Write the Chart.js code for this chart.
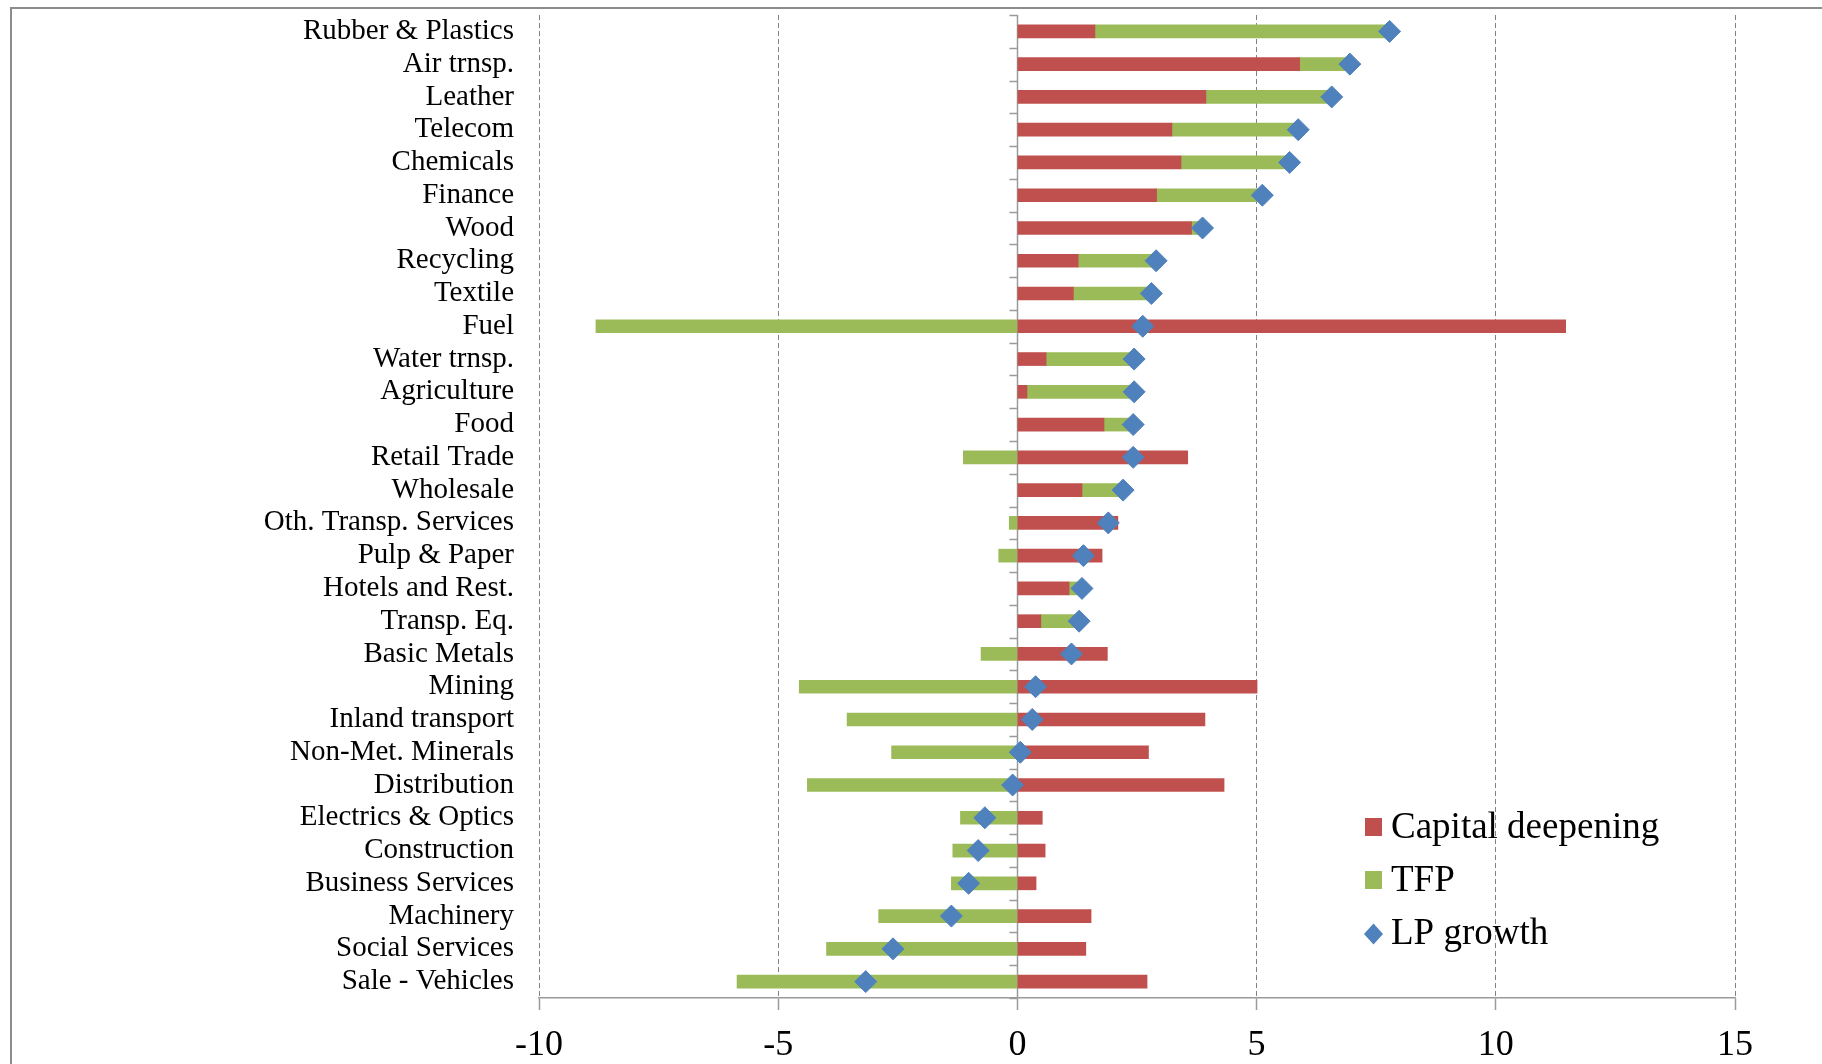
<!DOCTYPE html>
<html>
<head>
<meta charset="utf-8">
<title>Labour productivity growth decomposition by industry</title>
<script src="https://cdn.jsdelivr.net/npm/chart.js@4/dist/chart.umd.min.js"></script>
<style>
  html, body { margin: 0; padding: 0; background: #ffffff; overflow: hidden; }
  #wrap { position: relative; width: 1822px; height: 1064px; }
  #frame {
    position: absolute; left: 10px; top: 7px; width: 1900px; height: 1200px;
    border: 2px solid #8c8c8c; pointer-events: none;
  }
  canvas { position: absolute; left: 0; top: 0; }
</style>
</head>
<body>
<div id="wrap">
  <canvas id="chart" width="1822" height="1064"></canvas>
  <div id="frame"></div>
</div>
<script>
// Industries, top to bottom
const categories = [
  "Rubber & Plastics", "Air trnsp.", "Leather", "Telecom", "Chemicals", "Finance",
  "Wood", "Recycling", "Textile", "Fuel", "Water trnsp.", "Agriculture", "Food",
  "Retail Trade", "Wholesale", "Oth. Transp. Services", "Pulp & Paper",
  "Hotels and Rest.", "Transp. Eq.", "Basic Metals", "Mining", "Inland transport",
  "Non-Met. Minerals", "Distribution", "Electrics & Optics", "Construction",
  "Business Services", "Machinery", "Social Services", "Sale - Vehicles"
];

// Contribution of capital deepening (percentage points)
const capitalDeepening = [
  1.62, 5.90, 3.94, 3.23, 3.42, 2.91,
  3.64, 1.27, 1.17, 11.46, 0.60, 0.20, 1.81,
  3.56, 1.35, 2.10, 1.77,
  1.08, 0.49, 1.88, 5.01, 3.92,
  2.74, 4.32, 0.52, 0.58,
  0.39, 1.54, 1.43, 2.71
];

// Contribution of total factor productivity (percentage points)
const tfp = [
  6.15, 1.05, 2.63, 2.64, 2.27, 2.21,
  0.22, 1.63, 1.63, -8.81, 1.84, 2.24, 0.61,
  -1.13, 0.86, -0.17, -0.39,
  0.27, 0.80, -0.76, -4.56, -3.56,
  -2.63, -4.39, -1.19, -1.35,
  -1.38, -2.90, -3.99, -5.86
];

// Labour productivity growth (%)
const lpGrowth = [
  7.78, 6.95, 6.57, 5.87, 5.69, 5.12,
  3.87, 2.90, 2.80, 2.62, 2.44, 2.44, 2.42,
  2.42, 2.21, 1.90, 1.38,
  1.35, 1.29, 1.13, 0.38, 0.31,
  0.06, -0.10, -0.68, -0.82,
  -1.02, -1.38, -2.60, -3.17
];

// Value axis ticks
const xTicks = [-10, -5, 0, 5, 10, 15];

const SERIF = "'Liberation Serif', 'Times New Roman', serif";
const RED = '#c0504d';
const GREEN = '#9bbb59';
const BLUE = '#4f81bd';
const AXIS_GREY = '#9a9a9a';

Chart.defaults.font.family = SERIF;
Chart.defaults.color = '#000000';

// Solid zero line of the value axis with small ticks at category boundaries
const zeroAxis = {
  id: 'zeroAxis',
  beforeDatasetsDraw(chart) {
    const { ctx, chartArea } = chart;
    const x = chart.scales.x, y = chart.scales.y;
    const px = Math.round(x.getPixelForValue(0)) + 0.5;
    ctx.save();
    ctx.strokeStyle = AXIS_GREY;
    ctx.lineWidth = 1.5;
    ctx.beginPath();
    ctx.moveTo(px, chartArea.top);
    ctx.lineTo(px, chartArea.bottom);
    for (let i = 0; i <= categories.length; i++) {
      const py = Math.round(y.getPixelForValue(i - 0.5)) + 0.5;
      ctx.moveTo(px - 8, py);
      ctx.lineTo(px, py);
    }
    ctx.stroke();
    ctx.restore();
  }
};

// Legend drawn inside the plot area, lower right
const legendItems = [
  { label: 'Capital deepening', color: RED, shape: 'square' },
  { label: 'TFP', color: GREEN, shape: 'square' },
  { label: 'LP growth', color: BLUE, shape: 'diamond' }
];

const innerLegend = {
  id: 'innerLegend',
  afterDraw(chart) {
    const ctx = chart.ctx;
    const x0 = 1365, textX = 1391, baseline0 = 838, step = 53;
    ctx.save();
    ctx.font = '37px ' + SERIF;
    ctx.textBaseline = 'alphabetic';
    ctx.textAlign = 'left';
    legendItems.forEach((item, i) => {
      const base = baseline0 + i * step;
      ctx.fillStyle = item.color;
      if (item.shape === 'square') {
        ctx.fillRect(x0, base - 20, 17, 18);
      } else {
        const cx = x0 + 8.5, cy = base - 10;
        ctx.beginPath();
        ctx.moveTo(cx, cy - 10.5);
        ctx.lineTo(cx + 9.5, cy);
        ctx.lineTo(cx, cy + 10.5);
        ctx.lineTo(cx - 9.5, cy);
        ctx.closePath();
        ctx.fill();
      }
      ctx.fillStyle = '#000000';
      ctx.fillText(item.label, textX, base);
    });
    ctx.restore();
  }
};

new Chart(document.getElementById('chart'), {
  type: 'bar',
  data: {
    labels: categories,
    datasets: [
      {
        label: 'LP growth',
        type: 'line',
        indexAxis: 'y',
        data: lpGrowth,
        showLine: false,
        pointStyle: 'rectRot',
        pointRadius: 11,
        pointHoverRadius: 11,
        pointBackgroundColor: BLUE,
        pointBorderColor: BLUE,
        pointBorderWidth: 1,
        backgroundColor: BLUE,
        borderColor: BLUE,
        xAxisID: 'x',
        yAxisID: 'y',
        stack: 'lp',
        clip: false,
        order: 0
      },
      {
        label: 'Capital deepening',
        data: capitalDeepening,
        backgroundColor: RED,
        borderWidth: 0,
        barThickness: 13,
        xAxisID: 'x',
        yAxisID: 'y',
        stack: 'contrib',
        order: 1
      },
      {
        label: 'TFP',
        data: tfp,
        backgroundColor: GREEN,
        borderWidth: 0,
        barThickness: 13,
        xAxisID: 'x',
        yAxisID: 'y',
        stack: 'contrib',
        order: 1
      }
    ]
  },
  options: {
    indexAxis: 'y',
    responsive: false,
    animation: false,
    events: [],
    layout: { padding: { top: 15, right: 87, left: 0, bottom: 0 } },
    plugins: {
      legend: { display: false },
      tooltip: { enabled: false },
      title: { display: false }
    },
    scales: {
      x: {
        type: 'linear',
        position: 'bottom',
        stacked: true,
        min: xTicks[0],
        max: xTicks[xTicks.length - 1],
        afterBuildTicks(scale) {
          scale.ticks = xTicks.map(v => ({ value: v }));
        },
        ticks: {
          font: { size: 36, family: SERIF },
          color: '#000000',
          padding: 14,
          maxRotation: 0
        },
        grid: {
          display: true,
          drawOnChartArea: true,
          color: c => (c.tick && c.tick.value === 0) ? 'rgba(0,0,0,0)' : '#808080',
          lineWidth: 1,
          drawTicks: true,
          tickLength: 12,
          tickColor: AXIS_GREY,
          tickWidth: 1.5,
          tickBorderDash: []
        },
        border: { display: true, color: AXIS_GREY, width: 1.5, dash: [5, 3] },
        afterFit(scale) { scale.height = 66; }
      },
      y: {
        type: 'category',
        position: 'left',
        stacked: true,
        offset: true,
        grid: { display: false, drawTicks: false, drawOnChartArea: false },
        border: { display: false },
        ticks: {
          font: { size: 29, family: SERIF },
          color: '#000000',
          padding: 25,
          autoSkip: false
        },
        afterFit(scale) {
          scale.width = 539;
          // labels sit inside the category bands, so no extra room above or below
          scale.paddingTop = 0;
          scale.paddingBottom = 0;
        }
      }
    }
  },
  plugins: [zeroAxis, innerLegend]
});
</script>
</body>
</html>
